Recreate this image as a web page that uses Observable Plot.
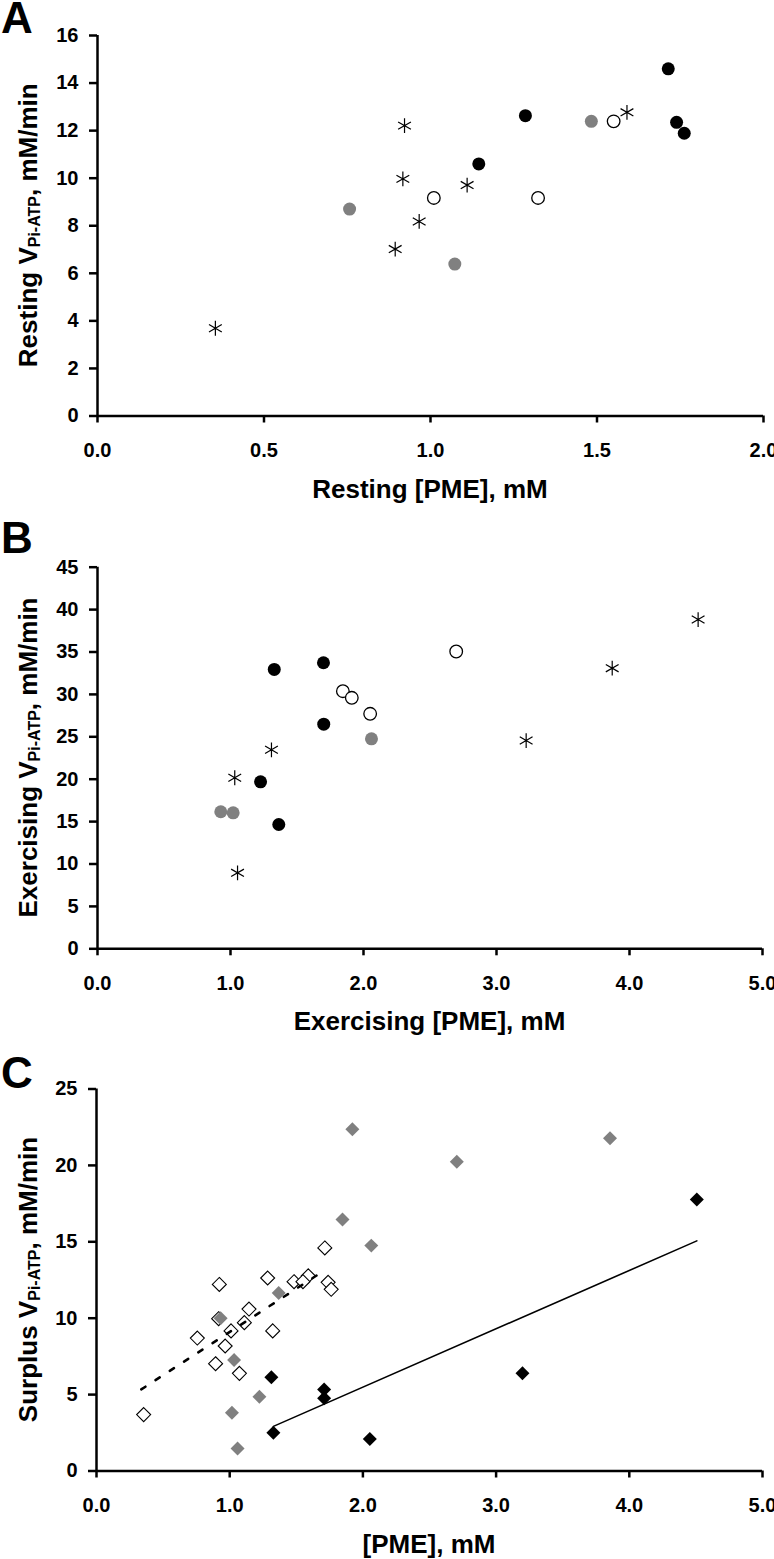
<!DOCTYPE html>
<html><head><meta charset="utf-8">
<script src="https://cdn.jsdelivr.net/npm/d3@7"></script>
<script src="https://cdn.jsdelivr.net/npm/@observablehq/plot@0.6"></script>
<style>
body{margin:0;background:#fff;}
#chart svg{display:block;}
</style></head><body><div id="chart"></div>
<script>
// ---------- Panel A: resting ----------
const restStarX  = [0.354, 0.922, 0.917, 0.966, 0.894, 1.110, 1.590];
const restStarY  = [3.69, 12.21, 9.97, 8.18, 7.02, 9.71, 12.77];
const restGrayX  = [0.757, 1.073, 1.483];
const restGrayY  = [8.70, 6.39, 12.39];
const restOpenX  = [1.010, 1.323, 1.550];
const restOpenY  = [9.17, 9.17, 12.39];
const restBlackX = [1.285, 1.145, 1.714, 1.739, 1.762];
const restBlackY = [12.63, 10.60, 14.60, 12.35, 11.89];

// ---------- Panel B: exercising ----------
const exStarX  = [1.308, 1.032, 1.053, 3.223, 3.870, 4.516];
const exStarY  = [23.47, 20.17, 8.96, 24.56, 33.09, 38.83];
const exGrayX  = [2.060, 0.927, 1.020];
const exGrayY  = [24.76, 16.16, 16.04];
const exOpenX  = [2.697, 1.845, 1.912, 2.050];
const exOpenY  = [35.06, 30.38, 29.60, 27.71];
const exBlackX = [1.329, 1.699, 1.701, 1.226, 1.363];
const exBlackY = [32.94, 33.73, 26.49, 19.69, 14.66];

// ---------- Panel C: surplus ----------
// open diamonds = resting values (all groups of panel A)
const surGrayX  = [1.921, 2.705, 3.855, 1.847, 2.063, 1.368, 0.932, 1.033, 1.223, 1.017, 1.059];
const surGrayY  = [22.37, 20.24, 21.77, 16.46, 14.75, 11.65, 9.99, 7.26, 4.86, 3.81, 1.47];
const surBlackX = [1.313, 1.328, 1.709, 1.709, 2.052, 3.198, 4.507];
const surBlackY = [6.13, 2.50, 5.34, 4.76, 2.10, 6.39, 17.77];
const fitSolidX  = [1.328, 4.507];
const fitSolidY  = [2.92, 15.06];
const fitDashedX = [0.336, 1.705];
const fitDashedY = [5.34, 13.09];

// ---------- ticks & labels ----------
const ticksXA = [0, 0.5, 1.0, 1.5, 2.0];
const ticksYA = [0, 2, 4, 6, 8, 10, 12, 14, 16];
const ticksXB = [0, 1, 2, 3, 4, 5];
const ticksYB = [0, 5, 10, 15, 20, 25, 30, 35, 40, 45];
const ticksXC = [0, 1, 2, 3, 4, 5];
const ticksYC = [0, 5, 10, 15, 20, 25];

const FONT = "'Liberation Sans', Arial, Helvetica, sans-serif";
const GRAY = "#808080";

const pts = (xs, ys) => xs.map((x, i) => ({x, y: ys[i]}));

const restOpenDiamondX = [...restStarX, ...restGrayX, ...restOpenX, ...restBlackX];
const restOpenDiamondY = [...restStarY, ...restGrayY, ...restOpenY, ...restBlackY];

function circleMarks(starX, starY, grayX, grayY, openX, openY, blackX, blackY) {
  return [
    Plot.dot(pts(starX, starY), {x: "x", y: "y", symbol: "asterisk", r: 7, stroke: "black", strokeWidth: 1.2}),
    Plot.dot(pts(grayX, grayY), {x: "x", y: "y", r: 6.5, fill: GRAY}),
    Plot.dot(pts(openX, openY), {x: "x", y: "y", r: 6.3, fill: "white", stroke: "black", strokeWidth: 1.3}),
    Plot.dot(pts(blackX, blackY), {x: "x", y: "y", r: 6.5, fill: "black"})
  ];
}

function panel(o) {
  const W = 774;
  const svg = Plot.plot({
    width: W, height: o.height,
    marginTop: o.mt, marginBottom: o.mb, marginLeft: o.ml, marginRight: o.mr,
    style: {fontFamily: FONT, fontSize: "20px", fontWeight: "bold", color: "black", background: "white", overflow: "visible"},
    x: {domain: o.xDomain},
    y: {domain: o.yDomain},
    marks: [
      Plot.ruleY([0], {stroke: "black", strokeWidth: 2.5}),
      Plot.ruleX([0], {stroke: "black", strokeWidth: 2.5}),
      Plot.axisX({ticks: o.xTicks, tickSize: 7, tickPadding: 20, tickFormat: d3.format(".1f"), strokeWidth: 2.5, label: null}),
      Plot.axisY({ticks: o.yTicks, tickSize: 8, tickPadding: 11, tickFormat: d3.format("d"), strokeWidth: 2.5, label: null}),
      ...o.marks
    ]
  });
  const s = d3.select(svg);
  s.append("text")
    .attr("x", 1).attr("y", o.letterY)
    .attr("text-anchor", "start")
    .style("font-size", "44px").style("font-weight", "bold").style("font-family", FONT)
    .text(o.letter);
  s.append("text")
    .attr("x", (o.ml + W - o.mr) / 2).attr("y", o.height - o.mb + 82)
    .attr("text-anchor", "middle")
    .style("font-size", "26px").style("font-weight", "bold").style("font-family", FONT)
    .text(o.xTitle);
  const cy = (o.mt + o.height - o.mb) / 2;
  const t = s.append("text")
    .attr("transform", `translate(37,${cy}) rotate(-90)`)
    .attr("text-anchor", "middle")
    .style("font-size", "26px").style("font-weight", "bold").style("font-family", FONT);
  t.append("tspan").text(o.yTitle[0]);
  t.append("tspan").attr("dy", 3).style("font-size", "16px").text(o.yTitle[1]);
  t.append("tspan").attr("dy", -3).text(o.yTitle[2]);
  return svg;
}

const root = document.getElementById("chart");

root.appendChild(panel({
  height: 510, mt: 35, mb: 94.5, ml: 97, mr: 11,
  xDomain: [0, 2], yDomain: [0, 16], xTicks: ticksXA, yTicks: ticksYA,
  letter: "A", letterY: 33,
  xTitle: "Resting [PME], mM",
  yTitle: ["Resting V", "Pi-ATP", ", mM/min"],
  marks: circleMarks(restStarX, restStarY, restGrayX, restGrayY, restOpenX, restOpenY, restBlackX, restBlackY)
}));

root.appendChild(panel({
  height: 530, mt: 56.7, mb: 91.7, ml: 97, mr: 12,
  xDomain: [0, 5], yDomain: [0, 45], xTicks: ticksXB, yTicks: ticksYB,
  letter: "B", letterY: 43,
  xTitle: "Exercising [PME], mM",
  yTitle: ["Exercising V", "Pi-ATP", ", mM/min"],
  marks: circleMarks(exStarX, exStarY, exGrayX, exGrayY, exOpenX, exOpenY, exBlackX, exBlackY)
}));

root.appendChild(panel({
  height: 519, mt: 48.5, mb: 88.5, ml: 96, mr: 12,
  xDomain: [0, 5], yDomain: [0, 25], xTicks: ticksXC, yTicks: ticksYC,
  letter: "C", letterY: 48,
  xTitle: "[PME], mM",
  yTitle: ["Surplus V", "Pi-ATP", ", mM/min"],
  marks: [
    Plot.dot(pts(restOpenDiamondX, restOpenDiamondY), {x: "x", y: "y", symbol: "diamond2", r: 6.3, fill: "white", stroke: "black", strokeWidth: 1.1}),
    Plot.dot(pts(surGrayX, surGrayY), {x: "x", y: "y", symbol: "diamond2", r: 6.3, fill: GRAY}),
    Plot.dot(pts(surBlackX, surBlackY), {x: "x", y: "y", symbol: "diamond2", r: 6.3, fill: "black"}),
    Plot.line(pts(fitSolidX, fitSolidY), {x: "x", y: "y", stroke: "black", strokeWidth: 1.6}),
    Plot.line(pts(fitDashedX, fitDashedY), {x: "x", y: "y", stroke: "black", strokeWidth: 2.5, strokeDasharray: "5,12"})
  ]
}));
</script></body></html>
